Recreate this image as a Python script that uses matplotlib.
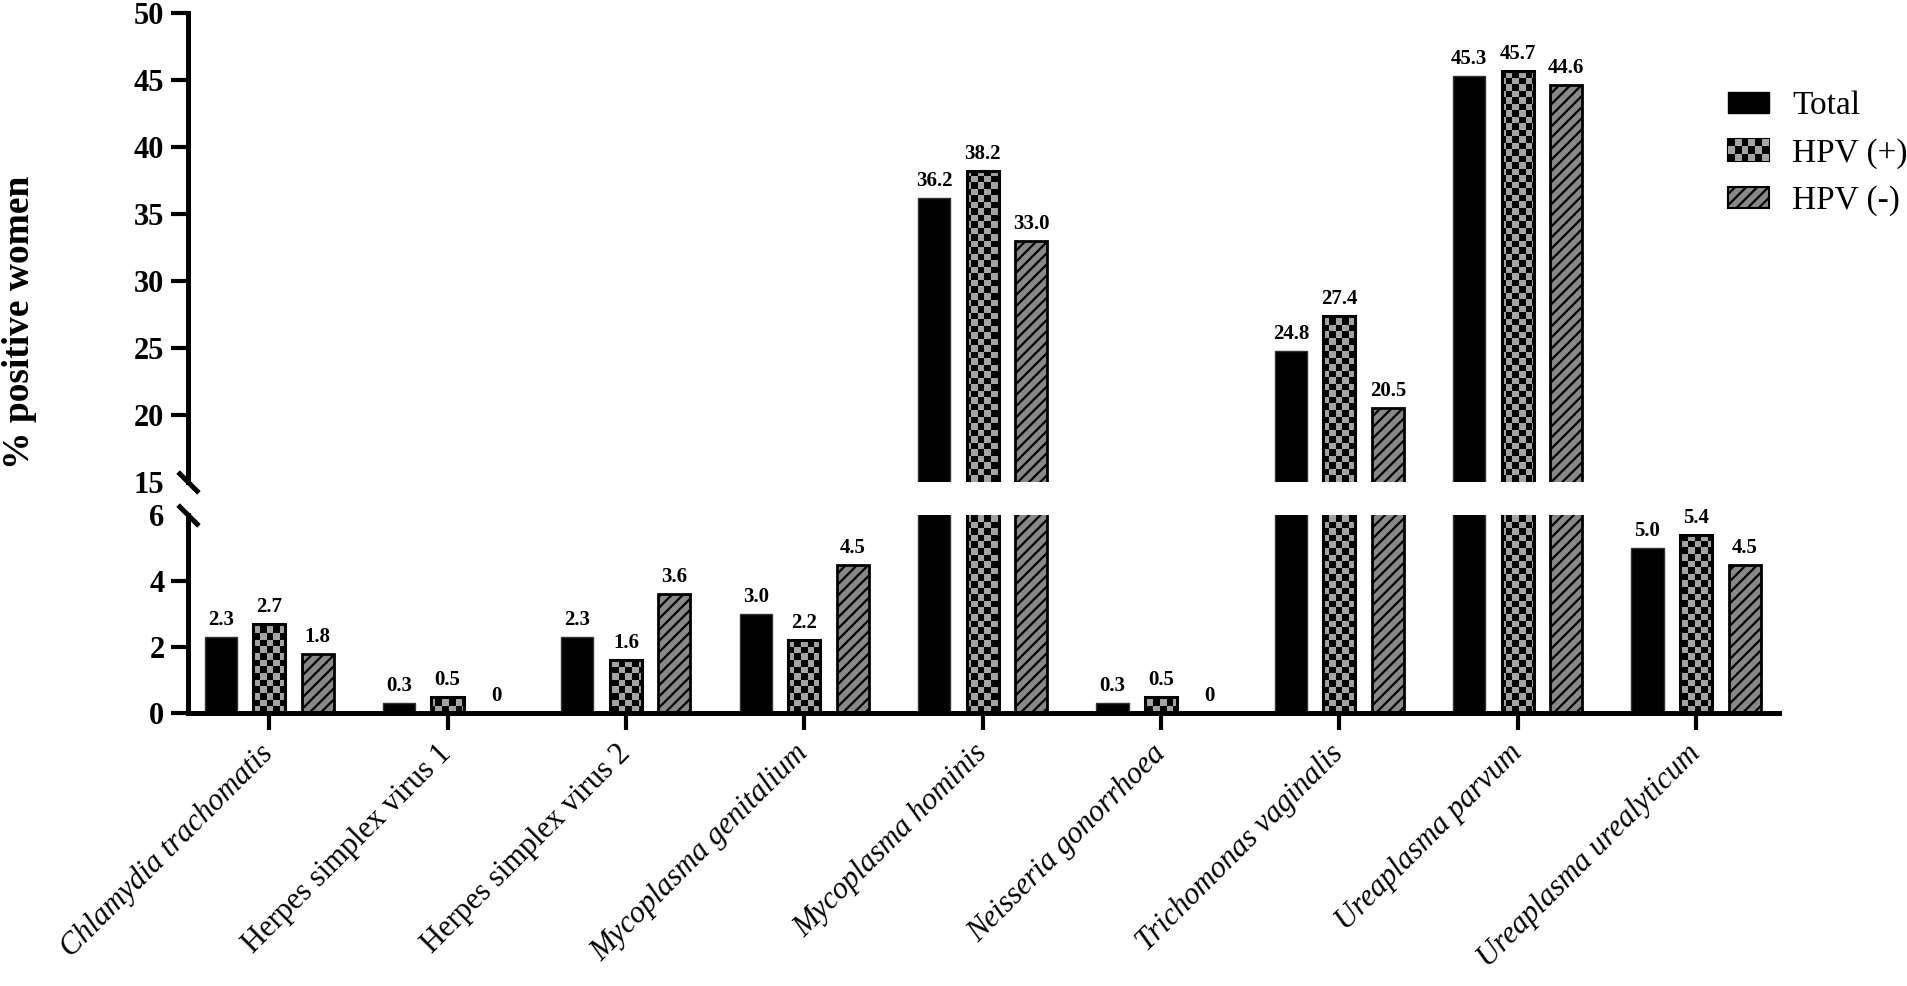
import numpy as np
import matplotlib
matplotlib.use('Agg')
from matplotlib import pyplot as plt
from matplotlib.colors import ListedColormap
from matplotlib.legend_handler import HandlerBase
from matplotlib.patches import Rectangle

categories = ['Chlamydia trachomatis', 'Herpes simplex virus 1', 'Herpes simplex virus 2',
              'Mycoplasma genitalium', 'Mycoplasma hominis', 'Neisseria gonorrhoea',
              'Trichomonas vaginalis', 'Ureaplasma parvum', 'Ureaplasma urealyticum']
italic_names = [True, False, False, True, True, True, True, True, True]

total = [2.3, 0.3, 2.3, 3.0, 36.2, 0.3, 24.8, 45.3, 5.0]
hpv_pos = [2.7, 0.5, 1.6, 2.2, 38.2, 0.5, 27.4, 45.7, 5.4]
hpv_neg = [1.8, 0, 3.6, 4.5, 33.0, 0, 20.5, 44.6, 4.5]
series_names = ['Total', 'HPV (+)', 'HPV (-)']

upper_ticks = [15, 20, 25, 30, 35, 40, 45, 50]
lower_ticks = [0, 2, 4, 6]

GRAY_CHECK = '#a3a3a3'
GRAY_HATCH = '#888888'
W, H = 1908, 986

plt.rcParams['font.family'] = ['Liberation Serif', 'DejaVu Serif']
plt.rcParams['hatch.linewidth'] = 1.6


class CheckerHandler(HandlerBase):
    def create_artists(self, legend, orig_handle, xdescent, ydescent,
                       width, height, fontsize, trans):
        x0, y0 = -xdescent, -ydescent
        arts = [Rectangle((x0, y0), width, height, facecolor='black',
                          edgecolor='black', lw=1.5, transform=trans)]
        nx, ny = 6, 3
        cw, ch = width / nx, height / ny
        for i in range(nx):
            for j in range(ny):
                if (i + j) % 2 == 1:
                    arts.append(Rectangle((x0 + i * cw, y0 + j * ch), cw, ch,
                                          facecolor=GRAY_CHECK, edgecolor='none',
                                          transform=trans))
        return arts


def label(v):
    return '0' if v == 0 else f'{v:.1f}'


fig = plt.figure(figsize=(W / 100, H / 100), dpi=100)
left, right = 188 / W, 1779 / W
ax_top = fig.add_axes([left, 1 - 482 / H, right - left, (482 - 13) / H])
ax_bot = fig.add_axes([left, 1 - 713 / H, right - left, (713 - 515) / H])

x = np.arange(len(categories))
off, bw = 0.272, 0.18
xlim = (-0.455, 8.465)

for ax, ylim in ((ax_top, (15, 50)), (ax_bot, (0, 6))):
    ax.set_xlim(*xlim)
    ax.set_ylim(*ylim)
    ax.bar(x - off, total, bw, color='black', edgecolor='#333333', lw=1)
    checker_bars = ax.bar(x, hpv_pos, bw, color='black', edgecolor='none')
    ax.bar(x + off, hpv_neg, bw, color=GRAY_HATCH, edgecolor='black', lw=2, hatch='///')

    # checkerboard texture, sized in pixels of this axes
    pos = ax.get_position()
    nx = int(pos.width * W / 6.5)
    ny = int(pos.height * H / 6.5)
    board = np.indices((ny, nx)).sum(axis=0) % 2
    for bar in checker_bars:
        im = ax.imshow(board, cmap=ListedColormap(['black', GRAY_CHECK]),
                       extent=(xlim[0], xlim[1], ylim[0], ylim[1]),
                       aspect='auto', interpolation='nearest', zorder=1.5)
        im.set_clip_path(bar)
    ax.bar(x, hpv_pos, bw, color='none', edgecolor='black', lw=2.2, zorder=2)
    ax.set_xlim(*xlim)
    ax.set_ylim(*ylim)

    for s in ('top', 'right'):
        ax.spines[s].set_visible(False)
    ax.spines['left'].set_linewidth(3.6)
    ax.spines['bottom'].set_linewidth(3.6)
    ax.tick_params(axis='y', length=12, width=3, pad=5, labelsize=22)

    for xs, vals in ((x - off, total), (x, hpv_pos), (x + off, hpv_neg)):
        for xi, v in zip(xs, vals):
            if ylim[0] < v <= ylim[1] or (ylim[0] == 0 and v == 0):
                ax.annotate(label(v), (xi, v), xytext=(0, 5), textcoords='offset points',
                            ha='center', va='bottom', fontsize=15, fontweight='bold')

ax_top.set_yticks(upper_ticks)
ax_bot.set_yticks(lower_ticks)
for ax in (ax_top, ax_bot):
    for t in ax.get_yticklabels():
        t.set_fontweight('bold')
ax_top.yaxis.get_major_ticks()[0].tick1line.set_visible(False)
ax_bot.yaxis.get_major_ticks()[-1].tick1line.set_visible(False)

ax_top.spines['bottom'].set_visible(False)
ax_top.tick_params(axis='x', bottom=False, labelbottom=False)

ax_bot.set_xticks(x)
ax_bot.set_xticklabels(categories)
ax_bot.tick_params(axis='x', length=12, width=3, pad=14, labelsize=22)
for t, it in zip(ax_bot.get_xticklabels(), italic_names):
    t.set_rotation(45)
    t.set_ha('right')
    t.set_va('center')
    t.set_rotation_mode('anchor')
    if it:
        t.set_style('italic')

# break marks on the y axis
kw = dict(marker=[(-1, 1), (1, -1)], markersize=15, linestyle='none',
          color='black', mec='black', mew=3.6, clip_on=False)
ax_top.plot([0], [0], transform=ax_top.transAxes, **kw)
ax_bot.plot([0], [1], transform=ax_bot.transAxes, **kw)

fig.text(20 / W, 1 - 322 / H, '% positive women', rotation=90, ha='center', va='center',
         fontsize=27, fontweight='bold')

checker_proxy = Rectangle((0, 0), 1, 1)
handles = [Rectangle((0, 0), 1, 1, facecolor='black', edgecolor='black'),
           checker_proxy,
           Rectangle((0, 0), 1, 1, facecolor=GRAY_HATCH, edgecolor='black', lw=1.5, hatch='///')]
fig.legend(handles, series_names, handler_map={checker_proxy: CheckerHandler()},
           loc='upper left', bbox_to_anchor=(1728 / W, 1 - 91 / H), frameon=False,
           fontsize=24, borderpad=0, borderaxespad=0, handlelength=1.23, handleheight=0.6,
           handletextpad=0.69, labelspacing=0.5)

fig.savefig('out.png', dpi=100)
